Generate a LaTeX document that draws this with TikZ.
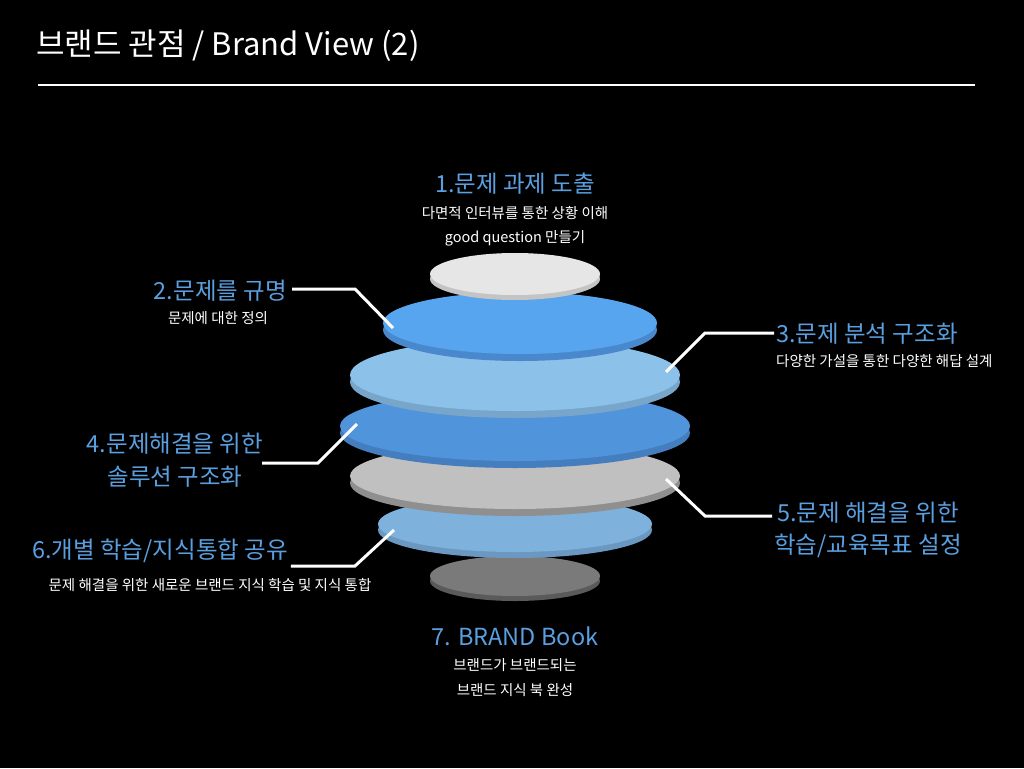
\documentclass[tikz,border=0pt]{standalone}
\usepackage{fontspec}
\setmainfont{Noto Sans CJK KR}
\definecolor{lbl}{HTML}{5A9FE0}
\definecolor{color1}{HTML}{E6E6E6}\definecolor{rim1}{HTML}{C4C4C4}
\definecolor{color2}{HTML}{57A5EE}\definecolor{rim2}{HTML}{4A88CE}
\definecolor{color3}{HTML}{8CC2EA}\definecolor{rim3}{HTML}{78A6CA}
\definecolor{color4}{HTML}{5094DC}\definecolor{rim4}{HTML}{447EBE}
\definecolor{color5}{HTML}{C0C0C0}\definecolor{rim5}{HTML}{8F8F8F}
\definecolor{color6}{HTML}{7EB1DC}\definecolor{rim6}{HTML}{6A98C0}
\definecolor{color7}{HTML}{7A7A7A}\definecolor{rim7}{HTML}{5A5A5A}
\begin{document}
\begin{tikzpicture}[x=1pt,y=-1pt,
  big/.style={text=lbl,font=\fontsize{23.5}{26}\selectfont,inner sep=0},
  small/.style={text=white,font=\fontsize{14.5}{16}\selectfont,inner sep=0},
  conn/.style={draw=white,line width=3pt}]
\fill[black] (0,0) rectangle (1024,768);
\useasboundingbox (0,0) rectangle (1024,768);
\node[anchor=west,text=white,font=\fontsize{31}{34}\selectfont,inner sep=0] (title) at (36,46) {브랜드 관점 / Brand View (2)};
\draw[white,line width=1.5pt] (38,85) -- (975,85);
% discs bottom to top
\newcommand\mydisc[7]{%
  \fill[#7] (#1,#2+#5) ellipse ({#3} and {#4});
  \fill[#6] (#1,#2) ellipse ({#3} and {#4});}
\mydisc{515}{576}{85}{20}{5}{color7}{rim7}
\mydisc{515}{524}{137}{28}{6}{color6}{rim6}
\mydisc{515}{476}{165}{33}{7}{color5}{rim5}
\mydisc{515}{426}{175}{35}{7}{color4}{rim4}
\mydisc{515}{375}{165}{36}{7}{color3}{rim3}
\mydisc{520}{323}{137}{31}{7}{color2}{rim2}
\mydisc{515}{274}{85}{21}{5}{color1}{rim1}
% nodes
\node[big] (t1) at (515,184) {1.문제 과제 도출};
\node[small] (s1a) at (515,213) {다면적 인터뷰를 통한 상황 이해};
\node[small] (s1b) at (515,238) {good question 만들기};
\node[big,anchor=east] (t2) at (287,291) {2.문제를 규명};
\node[small] (s2) at (218,318) {문제에 대한 정의};
\node[big,anchor=west] (t3) at (776,334) {3.문제 분석 구조화};
\node[small,anchor=west] (s3) at (776,361) {다양한 가설을 통한 다양한 해답 설계};
\node[big] (t4a) at (175,444) {4.문제해결을 위한};
\node[big] (t4b) at (175,477) {솔루션 구조화};
\node[big] (t5a) at (868,513) {5.문제 해결을 위한};
\node[big] (t5b) at (868,546) {학습/교육목표 설정};
\node[big] (t6) at (160,551) {6.개별 학습/지식통합 공유};
\node[small] (s6) at (210,585) {문제 해결을 위한 새로운 브랜드 지식 학습 및 지식 통합};
\node[big] (t7) at (515,636) {7. BRAND Book};
\node[small] (s7a) at (515,665) {브랜드가 브랜드되는};
\node[small] (s7b) at (515,690) {브랜드 지식 북 완성};
% connectors
\coordinate (e2) at (393,328); \coordinate (e3) at (666,372);
\coordinate (e4) at (357,424); \coordinate (e5) at (666,479);
\coordinate (e6) at (394,530);
\draw[conn] (t2.east) ++(5,-2) -- (355,289) -- (e2);
\draw[conn] (t3.west) ++(-2,-1) -- (705,333) -- (e3);
\draw[conn] (262,463) -- (318,463) -- (e4);
\draw[conn] (772,516) -- (705,516) -- (e5);
\draw[conn] (t6.east) ++(3,15) -- (355,566) -- (e6);
\end{tikzpicture}
\end{document}
